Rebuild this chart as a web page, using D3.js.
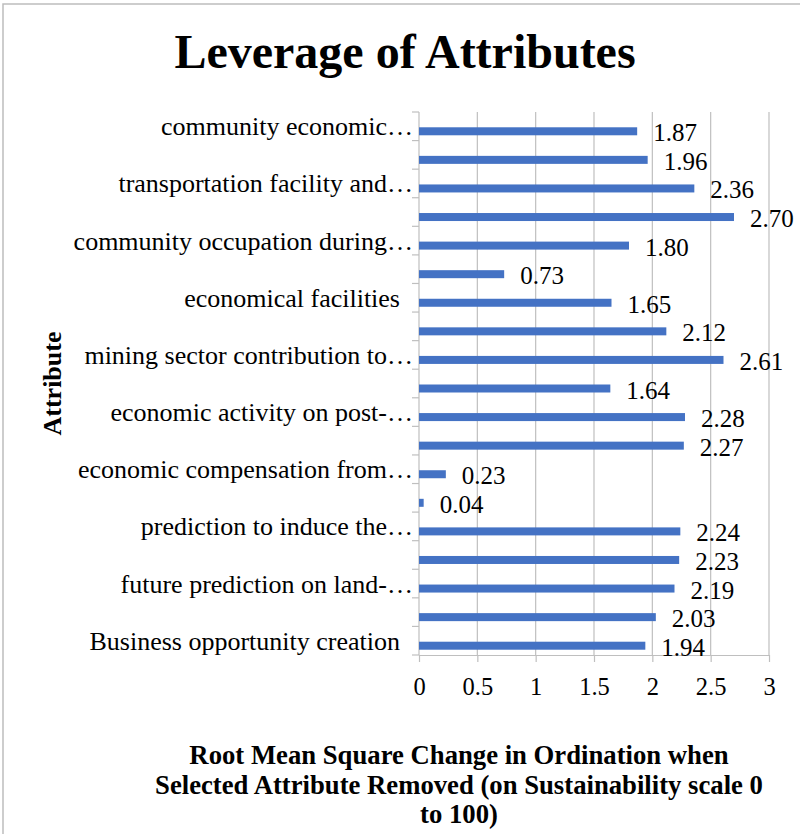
<!DOCTYPE html>
<html>
<head>
<meta charset="utf-8">
<script src="https://cdn.jsdelivr.net/npm/d3@7"></script>
<style>
  body { margin: 0; background: #fff; }
  text { font-family: "Liberation Serif", "Times New Roman", serif; fill: #000; }
</style>
</head>
<body>
<div id="chart"></div>
<script>
// attributes, bottom to top (only every other one has a visible label)
var attributes = [
  "Business opportunity creation  ", "a2",
  "future prediction on land-…", "a4",
  "prediction to induce the…", "a6",
  "economic compensation from…", "a8",
  "economic activity on post-…", "a10",
  "mining sector contribution to…", "a12",
  "economical facilities  ", "a14",
  "community occupation during…", "a16",
  "transportation facility and…", "a18",
  "community economic…"
];
var shownLabels = [0, 2, 4, 6, 8, 10, 12, 14, 16, 18];
var rmsValues = [1.94, 2.03, 2.19, 2.23, 2.24, 0.04, 0.23, 2.27, 2.28, 1.64,
                 2.61, 2.12, 1.65, 0.73, 1.80, 2.70, 2.36, 1.96, 1.87];
var xTicks = [0, 0.5, 1, 1.5, 2, 2.5, 3];
var xTitleLines = ["Root Mean Square Change in Ordination when",
                   "Selected Attribute Removed (on Sustainability scale 0",
                   "to 100)"];

var width = 800, height = 834;
var plotLeft = 419, plotRight = 769, plotTop = 112, plotBottom = 655;
var barColor = "#4472C4";
var gridColor = "#bfbfbf";

var svg = d3.select("#chart").append("svg")
    .attr("width", width)
    .attr("height", height);

// frame
svg.append("path")
    .attr("d", "M3,834V4H800")
    .attr("fill", "none")
    .attr("stroke", "#bdbdbd")
    .attr("stroke-width", 1.5);

var x = d3.scaleLinear().domain([0, 3]).range([plotLeft, plotRight]);
var y = d3.scaleBand()
    .domain(d3.range(attributes.length))
    .range([plotBottom, plotTop]);

// vertical gridlines
svg.selectAll(".grid")
    .data(xTicks.slice(1))
    .enter().append("line")
    .attr("class", "grid")
    .attr("x1", function (d) { return x(d); })
    .attr("x2", function (d) { return x(d); })
    .attr("y1", plotTop)
    .attr("y2", plotBottom)
    .attr("stroke", gridColor)
    .attr("stroke-width", 1.2);

// x axis
var xAxis = svg.append("g")
    .attr("transform", "translate(0," + plotBottom + ")")
    .call(d3.axisBottom(x).tickValues(xTicks).tickSizeInner(7).tickSizeOuter(0)
      .tickFormat(function (d) { return d; }));
xAxis.select(".domain").attr("stroke", gridColor).attr("stroke-width", 1.2);
xAxis.selectAll(".tick line").attr("stroke", gridColor).attr("stroke-width", 1.2);
xAxis.selectAll(".tick text")
    .attr("y", 40)
    .attr("dy", 0)
    .style("font-size", "24.5px")
    .style("font-family", "Liberation Serif");

// y axis line and category ticks at band boundaries
svg.append("line")
    .attr("x1", plotLeft).attr("x2", plotLeft)
    .attr("y1", plotTop).attr("y2", plotBottom)
    .attr("stroke", gridColor)
    .attr("stroke-width", 1.2);

var bounds = d3.range(attributes.length + 1).map(function (i) {
  return i < attributes.length ? y(i) + y.bandwidth() : y(i - 1);
});
svg.selectAll(".ytick")
    .data(bounds)
    .enter().append("line")
    .attr("class", "ytick")
    .attr("x1", plotLeft - 7).attr("x2", plotLeft)
    .attr("y1", function (d) { return d; })
    .attr("y2", function (d) { return d; })
    .attr("stroke", gridColor)
    .attr("stroke-width", 1.2);

// category labels
svg.selectAll(".cat")
    .data(shownLabels)
    .enter().append("text")
    .attr("class", "cat")
    .attr("x", plotLeft - 6)
    .attr("y", function (i) { return y(i) + y.bandwidth() / 2 + 9; })
    .attr("text-anchor", "end")
    .style("white-space", "pre")
    .style("font-size", "26px")
    .text(function (i) { return attributes[i]; });

// bars
var barH = 8;
var barShift = 5;
svg.selectAll(".bar")
    .data(rmsValues)
    .enter().append("rect")
    .attr("class", "bar")
    .attr("x", x(0))
    .attr("y", function (d, i) { return y(i) + y.bandwidth() / 2 + barShift - barH / 2; })
    .attr("width", function (d) { return x(d) - x(0); })
    .attr("height", barH)
    .attr("fill", barColor);

// value labels
svg.selectAll(".val")
    .data(rmsValues)
    .enter().append("text")
    .attr("class", "val")
    .attr("x", function (d) { return x(d) + 16; })
    .attr("y", function (d, i) { return y(i) + y.bandwidth() / 2 + barShift + 10; })
    .style("font-size", "25px")
    .text(function (d) { return d.toFixed(2); });

// title
svg.append("text")
    .attr("x", 405)
    .attr("y", 68)
    .attr("text-anchor", "middle")
    .style("font-size", "48px")
    .style("font-weight", "bold")
    .text("Leverage of Attributes");

// y axis title
svg.append("text")
    .attr("transform", "translate(61," + ((plotTop + plotBottom) / 2) + ") rotate(-90)")
    .attr("text-anchor", "middle")
    .style("font-size", "26px")
    .style("font-weight", "bold")
    .text("Attribute");

// x axis title
svg.selectAll(".xtitle")
    .data(xTitleLines)
    .enter().append("text")
    .attr("class", "xtitle")
    .attr("x", 459)
    .attr("y", function (d, i) { return 764 + i * 29.5; })
    .attr("text-anchor", "middle")
    .style("font-size", "26.7px")
    .style("font-weight", "bold")
    .text(function (d) { return d; });
</script>
</body>
</html>
